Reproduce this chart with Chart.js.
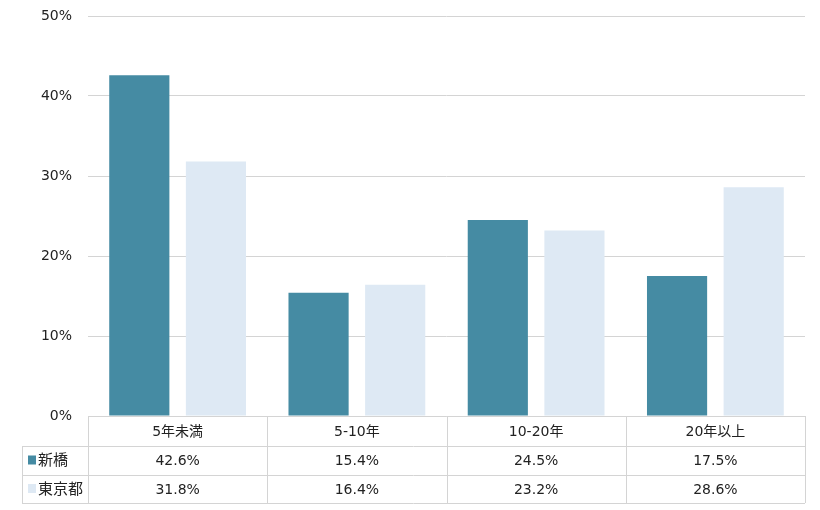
<!DOCTYPE html>
<html>
<head>
<meta charset="utf-8">
<script src="https://cdn.jsdelivr.net/npm/chart.js@4"></script>
<style>
  html, body { margin: 0; padding: 0; background: #fff; }
  #wrap { width: 820px; height: 510px; }
</style>
</head>
<body>
<div id="wrap"><canvas id="chart" width="820" height="510"></canvas></div>
<script>
// categories and series
const categories = ['5年未満', '5-10年', '10-20年', '20年以上'];
const shinbashi = [42.6, 15.4, 24.5, 17.5];
const tokyo = [31.8, 16.4, 23.2, 28.6];
const seriesNames = ['新橋', '東京都'];
const yTicks = [0, 10, 20, 30, 40, 50];

const COLORS = ['#458ba3', '#dee9f4'];
const FONT = "'DejaVu Sans', 'Noto Sans CJK JP', sans-serif";
const LINE = '#d4d4d4';

// draws the data table under the plot area
const dataTable = {
    id: 'dataTable',
    afterDraw(chart) {
        const ctx = chart.ctx;
        const x = chart.scales.x;
        const area = chart.chartArea;
        const top = Math.round(area.bottom);
        const rows = [top, top + 30, top + 59, top + 87];
        const n = categories.length;
        const step = (area.right - area.left) / n;
        const edges = [];
        for (let i = 0; i <= n; i++) edges.push(area.left + step * i);
        const labelLeft = 22;

        ctx.save();
        ctx.strokeStyle = LINE;
        ctx.lineWidth = 1;
        ctx.beginPath();
        // horizontal lines
        ctx.moveTo(area.left, rows[0] + 0.5); ctx.lineTo(area.right, rows[0] + 0.5);
        for (let r = 1; r < rows.length; r++) {
            ctx.moveTo(labelLeft, rows[r] + 0.5); ctx.lineTo(area.right, rows[r] + 0.5);
        }
        // vertical lines
        edges.forEach(e => {
            ctx.moveTo(Math.round(e) + 0.5, rows[0]); ctx.lineTo(Math.round(e) + 0.5, rows[3]);
        });
        ctx.moveTo(labelLeft + 0.5, rows[1]); ctx.lineTo(labelLeft + 0.5, rows[3]);
        ctx.stroke();

        ctx.fillStyle = '#222';
        ctx.font = '14px ' + FONT;
        ctx.textAlign = 'center';
        ctx.textBaseline = 'middle';
        const sets = [shinbashi, tokyo];
        categories.forEach((c, i) => {
            const cx = x.getPixelForValue(i);
            ctx.fillText(c, cx, (rows[0] + rows[1]) / 2 + 1);
            sets.forEach((s, j) => {
                ctx.fillText(s[i].toFixed(1) + '%', cx, (rows[j + 1] + rows[j + 2]) / 2 + 1);
            });
        });

        // legend keys
        ctx.textAlign = 'left';
        seriesNames.forEach((name, j) => {
            const cy = (rows[j + 1] + rows[j + 2]) / 2;
            ctx.fillStyle = COLORS[j];
            ctx.fillRect(28, cy - 5, 8, 9);
            ctx.fillStyle = '#222';
            ctx.font = '15px ' + FONT;
            ctx.fillText(name, 38, cy + 1);
        });
        ctx.restore();
    }
};

new Chart(document.getElementById('chart'), {
    type: 'bar',
    data: {
        labels: categories,
        datasets: [
            { label: seriesNames[0], data: shinbashi, backgroundColor: COLORS[0] },
            { label: seriesNames[1], data: tokyo, backgroundColor: COLORS[1] }
        ]
    },
    options: {
        responsive: false,
        animation: false,
        categoryPercentage: 0.855,
        barPercentage: 0.785,
        layout: { padding: { top: 16, right: 15, bottom: 94, left: 0 } },
        plugins: {
            legend: { display: false },
            tooltip: { enabled: false }
        },
        scales: {
            x: {
                display: false
            },
            y: {
                min: 0,
                max: 50,
                afterFit: (s) => {
                    s.width = 88;
                    s.paddingTop = 0;
                    s.paddingBottom = 0;
                },
                afterBuildTicks: (s) => { s.ticks = yTicks.map(v => ({ value: v })); },
                grid: { color: LINE, drawTicks: false },
                border: { display: false },
                ticks: {
                    color: '#222',
                    padding: 16,
                    font: { family: FONT, size: 14 },
                    callback: (v) => v + '%'
                }
            }
        }
    },
    plugins: [dataTable]
});
</script>
</body>
</html>
